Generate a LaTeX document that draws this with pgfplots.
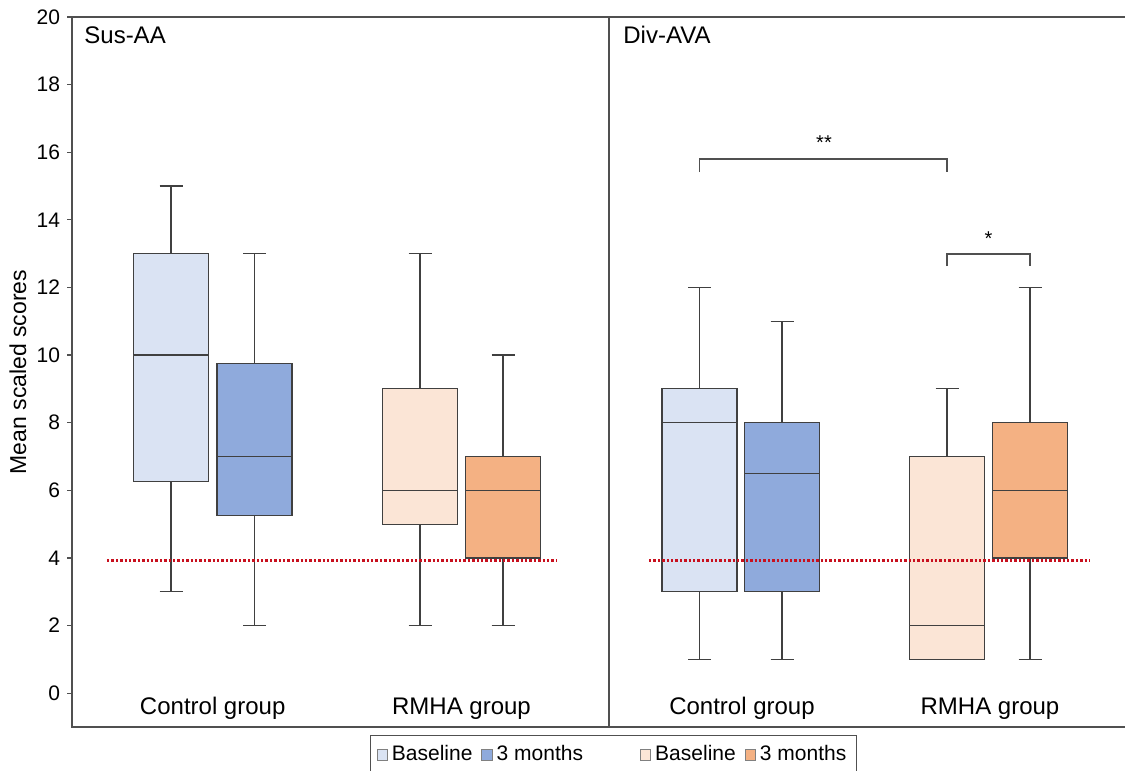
\documentclass[border=0pt]{standalone}
\usepackage{pgfplots}
\pgfplotsset{compat=1.18}
\usepgfplotslibrary{statistics}
\usepackage{fontspec}
\setmainfont{Liberation Sans}
\definecolor{cbase}{RGB}{218,227,243}
\definecolor{cthree}{RGB}{143,170,220}
\definecolor{rbase}{RGB}{251,229,214}
\definecolor{rthree}{RGB}{244,177,131}
\definecolor{edge}{RGB}{64,64,64}
\definecolor{axisgray}{RGB}{80,80,80}
\definecolor{reddot}{RGB}{200,16,30}
\begin{document}
\begin{tikzpicture}
\useasboundingbox (0,0) rectangle (562.5pt,385.5pt);
\begin{axis}[
  at={(36pt,22pt)}, anchor=south west,
  scale only axis, width=527.5pt, height=355pt,
  xmin=72, xmax=1127, ymin=-1, ymax=20,
  xtick=\empty,
  ytick={0,2,...,20}, ytick pos=left,
  tick align=outside, major tick length=2.5pt,
  tick style={axisgray, line width=0.6pt},
  axis line style={axisgray, line width=0.75pt},
  /pgf/number format/assume math mode=true,
  yticklabel style={font=\fontsize{10.5}{12}\selectfont},
  ylabel={Mean scaled scores},
  ylabel style={at={(axis description cs:-0.0436,0.5)}, anchor=base, font=\fontsize{11.5}{13}\selectfont},
  boxplot/draw direction=y,
  clip=false,
  legend image code/.code={\draw[#1, draw=gray, line width=0.4pt] (0pt,-2.6pt) rectangle (5.2pt,2.6pt);},
  legend columns=5,
  legend style={at={(0.5133,0)}, anchor=north, yshift=-4pt, draw=axisgray, line width=0.6pt,
    font=\fontsize{10.5}{12}\selectfont, inner xsep=3pt, inner ysep=3pt,
    /tikz/every even column/.append style={column sep=2.5pt}},
]
\addlegendimage{fill=cbase}\addlegendentry{Baseline}
\addlegendimage{fill=cthree}\addlegendentry{3 months}
\addlegendimage{empty legend}\addlegendentry{\rule{17.5pt}{0pt}}
\addlegendimage{fill=rbase}\addlegendentry{Baseline}
\addlegendimage{fill=rthree}\addlegendentry{3 months}

% Sus-AA
\addplot[forget plot, fill=cbase, draw=edge, line width=0.6pt, boxplot prepared={draw position=171, lower whisker=3, lower quartile=6.25, median=10, upper quartile=13, upper whisker=15, box extend=75, whisker extend=23}] coordinates {};
\addplot[forget plot, fill=cthree, draw=edge, line width=0.6pt, boxplot prepared={draw position=254.5, lower whisker=2, lower quartile=5.25, median=7, upper quartile=9.75, upper whisker=13, box extend=75, whisker extend=23}] coordinates {};
\addplot[forget plot, fill=rbase, draw=edge, line width=0.6pt, boxplot prepared={draw position=420, lower whisker=2, lower quartile=5, median=6, upper quartile=9, upper whisker=13, box extend=75, whisker extend=23}] coordinates {};
\addplot[forget plot, fill=rthree, draw=edge, line width=0.6pt, boxplot prepared={draw position=503, lower whisker=2, lower quartile=4, median=6, upper quartile=7, upper whisker=10, box extend=75, whisker extend=23}] coordinates {};
% Div-AVA
\addplot[forget plot, fill=cbase, draw=edge, line width=0.6pt, boxplot prepared={draw position=699.5, lower whisker=1, lower quartile=3, median=8, upper quartile=9, upper whisker=12, box extend=75, whisker extend=23}] coordinates {};
\addplot[forget plot, fill=cthree, draw=edge, line width=0.6pt, boxplot prepared={draw position=782, lower whisker=1, lower quartile=3, median=6.5, upper quartile=8, upper whisker=11, box extend=75, whisker extend=23}] coordinates {};
\addplot[forget plot, fill=rbase, draw=edge, line width=0.6pt, boxplot prepared={draw position=947, lower whisker=1, lower quartile=1, median=2, upper quartile=7, upper whisker=9, box extend=75, whisker extend=23}] coordinates {};
\addplot[forget plot, fill=rthree, draw=edge, line width=0.6pt, boxplot prepared={draw position=1030, lower whisker=1, lower quartile=4, median=6, upper quartile=8, upper whisker=12, box extend=75, whisker extend=23}] coordinates {};

% reference lines
\addplot[forget plot, reddot, densely dotted, line width=1.2pt] coordinates {(107,3.93) (556,3.93)};
\addplot[forget plot, reddot, densely dotted, line width=1.2pt] coordinates {(649,3.93) (1090,3.93)};

% significance brackets
\addplot[forget plot, axisgray, line width=0.75pt] coordinates {(699.5,15.41) (699.5,15.80) (947,15.80) (947,15.41)};
\addplot[forget plot, axisgray, line width=0.75pt] coordinates {(947,12.63) (947,12.99) (1030,12.99) (1030,12.63)};
\node[anchor=base, inner sep=0pt, font=\fontsize{10}{12}\selectfont] at (axis cs:824,16.08) {**};
\node[anchor=base, inner sep=0pt, font=\fontsize{10}{12}\selectfont] at (axis cs:988.5,13.24) {*};

% panel divider
\draw[axisgray, line width=0.75pt] (axis cs:609,-1) -- (axis cs:609,20);

% titles and categories
\node[anchor=base west, inner sep=0pt, font=\fontsize{12}{14}\selectfont] at (axis cs:84,19.23) {Sus-AA};
\node[anchor=base west, inner sep=0pt, font=\fontsize{12}{14}\selectfont] at (axis cs:623,19.23) {Div-AVA};
\node[anchor=base, inner sep=0pt, font=\fontsize{12}{14}\selectfont] at (axis cs:212.7,-0.62) {Control group};
\node[anchor=base, inner sep=0pt, font=\fontsize{12}{14}\selectfont] at (axis cs:461.5,-0.62) {RMHA group};
\node[anchor=base, inner sep=0pt, font=\fontsize{12}{14}\selectfont] at (axis cs:742,-0.62) {Control group};
\node[anchor=base, inner sep=0pt, font=\fontsize{12}{14}\selectfont] at (axis cs:990,-0.62) {RMHA group};
\end{axis}
\end{tikzpicture}
\end{document}
